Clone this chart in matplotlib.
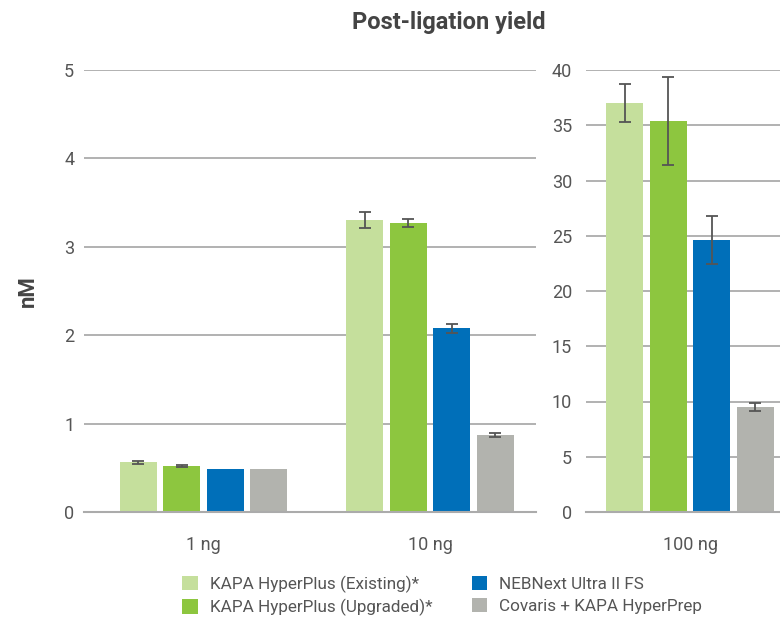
import matplotlib
matplotlib.use("Agg")
import matplotlib.pyplot as plt
from matplotlib.patches import Patch

plt.rcParams['font.family'] = ['Roboto', 'DejaVu Sans']

series = ["KAPA HyperPlus (Existing)*", "KAPA HyperPlus (Upgraded)*",
          "NEBNext Ultra II FS", "Covaris + KAPA HyperPrep"]
colors = ["#C5DF9C", "#8DC63F", "#006FB9", "#B2B3AE"]

left_groups = ["1 ng", "10 ng"]
left_values = [[0.56, 3.30], [0.52, 3.27], [0.49, 2.08], [0.49, 0.87]]
left_errors = [[0.02, 0.09], [0.015, 0.05], [None, 0.05], [None, 0.02]]

right_groups = ["100 ng"]
right_values = [[37.0], [35.4], [24.6], [9.5]]
right_errors = [[1.7], [4.0], [2.2], [0.35]]

left_ticks = [0, 1, 2, 3, 4, 5]
right_ticks = [0, 5, 10, 15, 20, 25, 30, 35, 40]

W, H = 780, 618
fig = plt.figure(figsize=(W / 100, H / 100), dpi=100)

def frac(x0, x1, ytop, ybot):
    return [x0 / W, 1 - ybot / H, (x1 - x0) / W, (ybot - ytop) / H]

axL = fig.add_axes(frac(84, 536, 70, 512))
axR = fig.add_axes(frac(586, 780, 70, 512))

bw = 0.163
step = 0.192
txt = "#555555"
grid_c = "#ABABAB"
fs = 13

def draw(ax, groups, values, errors, ticks, xlim):
    for i in range(4):
        for g in range(len(groups)):
            x = g + (i - 1.5) * step
            ax.bar(x, values[i][g], width=bw, color=colors[i], zorder=3)
            e = errors[i][g]
            if e is not None:
                ax.errorbar(x, values[i][g], yerr=e, color="#555555",
                            elinewidth=1.3, capsize=4.5, capthick=1.3, zorder=4)
    ax.set_xlim(*xlim)
    ax.set_ylim(ticks[0], ticks[-1])
    ax.set_yticks(ticks)
    ax.set_xticks(range(len(groups)))
    ax.set_xticklabels(groups)
    ax.tick_params(axis='both', length=0, labelsize=fs, colors=txt)
    ax.tick_params(axis='x', pad=17)
    ax.tick_params(axis='y', pad=7)
    ax.yaxis.grid(True, color=grid_c, linewidth=1.3, zorder=0)
    ax.set_axisbelow(True)
    for s in ["top", "right", "left"]:
        ax.spines[s].set_visible(False)
    ax.spines["bottom"].set_color(grid_c)
    ax.spines["bottom"].set_linewidth(1.5)
    ax.spines["bottom"].set_zorder(5)

draw(axL, left_groups, left_values, left_errors, left_ticks, (-0.528, 1.468))
draw(axR, right_groups, right_values, right_errors, right_ticks, (-0.459, 0.397))
axR.tick_params(axis='y', pad=10)

axL.set_ylabel("nM", fontsize=16, fontweight="bold", color="#444444", labelpad=18)

fig.text(449 / W, 1 - 22 / H, "Post-ligation yield", fontsize=17, fontweight="bold",
         color="#444444", ha="center", va="center")

handles = [Patch(facecolor=c, edgecolor="none") for c in colors]
fig.legend(handles, series,
           ncol=2, loc="center left", bbox_to_anchor=(167 / W, 1 - 596 / H),
           frameon=False, fontsize=12.3, handlelength=0.9, handleheight=0.9,
           handletextpad=0.7, columnspacing=2.3, labelspacing=0.35,
           labelcolor=txt)

fig.savefig("out.png", dpi=100)
